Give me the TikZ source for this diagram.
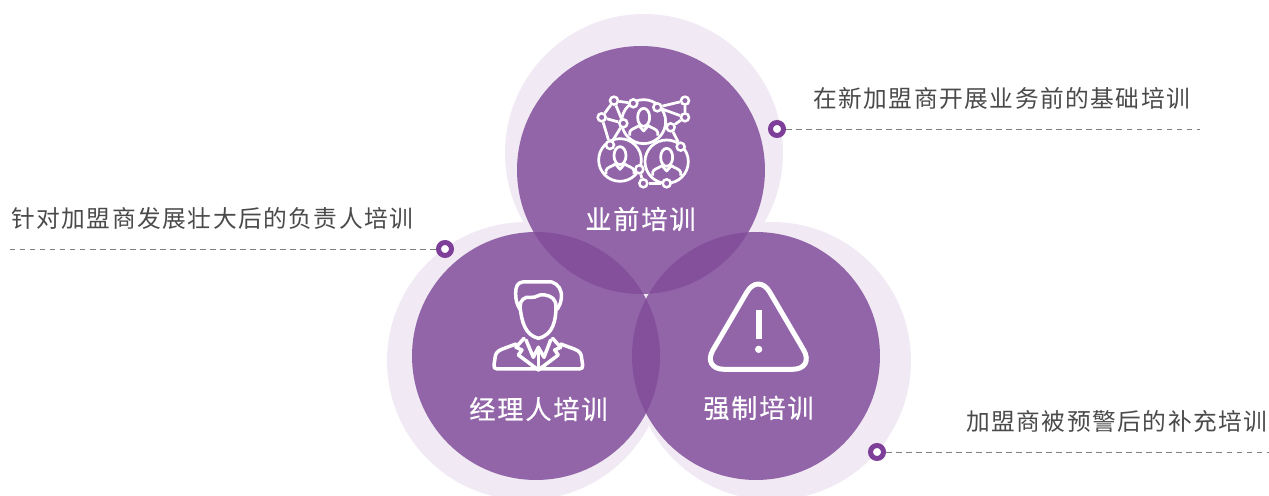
\documentclass[tikz,border=0pt]{standalone}
\usepackage{fontspec}
\setmainfont{Noto Sans CJK SC}
\newfontfamily\notefont[LetterSpace=6.3]{Noto Sans CJK SC}
\newfontfamily\titlefont[LetterSpace=7,FakeBold=0.5]{Noto Sans CJK SC}
\pgfdeclarelayer{disclayer}
\pgfdeclarelayer{edgelayer}
\pgfdeclarelayer{nodelayer}
\pgfsetlayers{disclayer,edgelayer,nodelayer,main}
\definecolor{plum}{HTML}{824D9B}
\definecolor{plumdark}{HTML}{7E3F98}
\definecolor{plumflat}{HTML}{9366A9}
\definecolor{halo}{HTML}{F1EAF4}
\definecolor{notegrey}{HTML}{4A4A4A}
\tikzstyle{none}=[inner sep=0pt]
\tikzstyle{halodisc}=[circle,inner sep=0pt,minimum size=5.56cm,fill=halo]
\tikzstyle{disc}=[circle,inner sep=0pt,minimum size=4.96cm,fill=plum,fill opacity=0.85]
\tikzstyle{title}=[inner sep=0pt,anchor=west,text=white,font=\titlefont\fontsize{14.9}{18}\selectfont]
\tikzstyle{note}=[inner sep=0pt,anchor=west,text=notegrey,font=\notefont\fontsize{13.5}{16}\selectfont]
\tikzstyle{dot}=[circle,inner sep=0pt,minimum size=0.26cm,fill=white,draw=plumdark,line width=0.1cm]
\tikzstyle{leader}=[draw=gray,dash pattern=on 3.2pt off 2.5pt,line width=0.5pt]
\tikzstyle{link}=[draw=white,line width=0.055cm,line join=round]
\tikzstyle{knot}=[circle,inner sep=0pt,minimum size=0.16cm,fill=plumflat,draw=white,line width=0.05cm]
\tikzstyle{icon}=[draw=white,line width=0.07cm,line join=round,line cap=round]
\newcommand{\person}[1]{
	\begin{scope}[shift={#1}]
		\draw [style=link] (0,-13) ellipse (18 and 27);
		\draw [style=link] (-42,42) -- (-42,32) .. controls (-40,22) and (-25,20) .. (-14,12) -- (0,28) -- (14,12) .. controls (25,20) and (40,22) .. (42,32) -- (42,42);
	\end{scope}
}
\begin{document}
\begin{tikzpicture}[x=0.02cm,y=-0.02cm]
	\useasboundingbox (0,0) rectangle (1269,496);
	\begin{pgfonlayer}{disclayer}
		\node [style=halodisc] (0) at (644,153) {};
		\node [style=halodisc] (1) at (526,361) {};
		\node [style=halodisc] (2) at (772,361) {};
		\node [style=disc] (3) at (641,170) {};
		\node [style=disc] (4) at (536,356) {};
		\node [style=disc] (5) at (756,356) {};
	\end{pgfonlayer}
	\begin{pgfonlayer}{nodelayer}
		\node [style=title] (6) at (585,219) {业前培训};
		\node [style=title] (7) at (469,409) {经理人培训};
		\node [style=title] (8) at (703,408) {强制培训};
		\node [style=note] (9) at (813,98) {在新加盟商开展业务前的基础培训};
		\node [style=note] (10) at (11,218) {针对加盟商发展壮大后的负责人培训};
		\node [style=note] (11) at (966,421) {加盟商被预警后的补充培训};
		\node [style=dot] (12) at (777,129) {};
		\node [style=dot] (13) at (445,249) {};
		\node [style=dot] (14) at (877,452) {};
		\coordinate (15) at (1200,129);
		\coordinate (16) at (7,249);
		\coordinate (17) at (1269,452);
	\end{pgfonlayer}
	\begin{pgfonlayer}{edgelayer}
		\draw [style=leader] (12) to (15);
		\draw [style=leader] (13) to (16);
		\draw [style=leader] (14) to (17);
	\end{pgfonlayer}
	% network icon
	\begin{scope}[shift={(580,80)},scale=0.3333]
		\begin{pgfonlayer}{edgelayer}
			\draw [style=link] (191,125) circle (66);
			\draw [style=link] (120,240) circle (64);
			\draw [style=link] (260,245) circle (65);
			\person{(191,125)}
			\person{(120,240)}
			\person{(260,245)}
		\end{pgfonlayer}
		\begin{pgfonlayer}{nodelayer}
			\node [style=knot] (20) at (102,62) {};
			\node [style=knot] (21) at (160,70) {};
			\node [style=knot] (22) at (65,112) {};
			\node [style=knot] (23) at (130,130) {};
			\node [style=knot] (24) at (232,82) {};
			\node [style=knot] (25) at (315,62) {};
			\node [style=knot] (26) at (315,112) {};
			\node [style=knot] (27) at (272,142) {};
			\node [style=knot] (28) at (302,200) {};
			\node [style=knot] (29) at (90,195) {};
			\node [style=knot] (30) at (178,268) {};
			\node [style=knot] (31) at (190,310) {};
			\node [style=knot] (32) at (260,310) {};
		\end{pgfonlayer}
		\begin{pgfonlayer}{edgelayer}
			\draw [style=link] (20) to (21);
			\draw [style=link] (20) to (22);
			\draw [style=link] (20) to (23);
			\draw [style=link] (22) to (23);
			\draw [style=link] (22) to (29);
			\draw [style=link] (23) to (29);
			\draw [style=link] (24) to (25);
			\draw [style=link] (24) to (26);
			\draw [style=link] (25) to (26);
			\draw [style=link] (26) to (27);
			\draw [style=link] (27) to (28);
			\draw [style=link] (30) to (31);
			\draw [style=link] (31) to (32);
		\end{pgfonlayer}
	\end{scope}
	% manager icon
	\begin{scope}[shift={(470,270)},scale=0.3333]
		\draw [style=icon] (150,118) .. controls (140,100) and (137,90) .. (137,70) .. controls (137,50) and (142,38) .. (158,36) -- (245,36) .. controls (265,42) and (277,60) .. (274,85) .. controls (272,100) and (268,108) .. (262,118);
		\draw [style=icon] (150,110) .. controls (150,90) and (165,78) .. (182,82) .. controls (200,85) and (205,70) .. (225,75) .. controls (245,78) and (258,88) .. (258,110) .. controls (258,150) and (250,195) .. (205,205) .. controls (165,195) and (155,155) .. (150,110);
		\draw [style=icon] (138,222) -- (95,238) .. controls (80,244) and (76,252) .. (75,265) -- (72,285) .. controls (71,293) and (74,297) .. (82,297) -- (328,297) .. controls (336,297) and (339,293) .. (338,285) -- (335,265) .. controls (334,252) and (330,244) .. (315,238) -- (272,222);
		\draw [style=icon] (162,205) -- (138,232) -- (156,240) -- (145,255) -- (205,300) -- (265,255) -- (254,240) -- (272,232) -- (248,205);
		\draw [style=icon] (168,210) -- (190,262) -- (205,232) -- (222,262) -- (242,210);
		\draw [style=icon] (205,232) -- (205,300);
	\end{scope}
	% warning icon
	\begin{scope}[shift={(690,270)},scale=0.3333]
		\draw [style=icon,line width=0.1cm,rounded corners=0.45cm] (205,8) -- (35,298) -- (375,298) -- cycle;
		\fill [white] (197,120) rectangle (216,208);
		\fill [white] (206,238) circle (11);
	\end{scope}
\end{tikzpicture}
\end{document}
